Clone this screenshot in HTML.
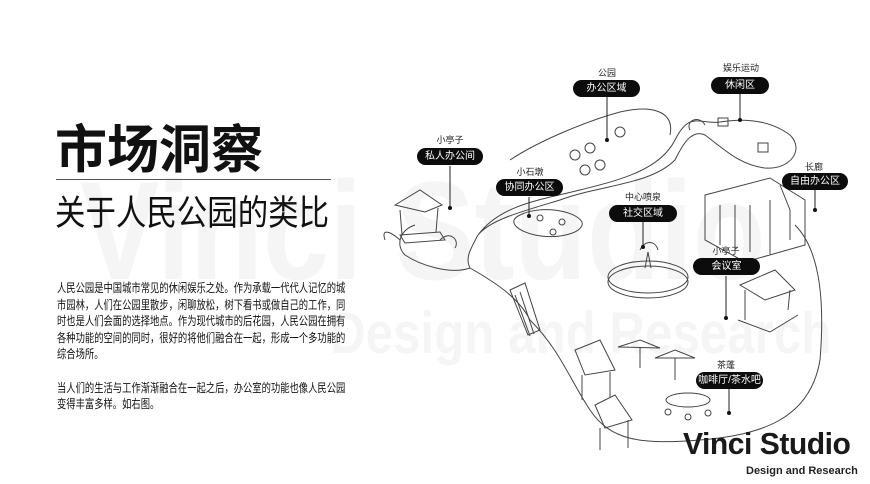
<!DOCTYPE html>
<html><head><meta charset="utf-8"><style>
html,body{margin:0;padding:0}
body{width:870px;height:484px;position:relative;background:#fff;overflow:hidden;font-family:"Liberation Sans","Noto Sans CJK SC",sans-serif;color:#111}
.a{position:absolute;white-space:nowrap}
.pill{position:absolute;background:#0c0c0c;color:#fff;border-radius:9px;font-size:10px;text-align:center;line-height:17px;height:17px}
.lab{position:absolute;font-size:9px;text-align:center;color:#222}
.wmbox{position:absolute;left:0;top:0;width:870px;height:484px;overflow:hidden}
.wm{position:absolute;color:#f5f5f5;font-weight:bold;white-space:nowrap;transform-origin:left top}
</style></head><body>
<div class="wmbox">
<div class="wm" style="left:80px;top:150px;font-size:140px;transform:scaleX(0.85)">Vinci Studio</div>
<div class="wm" style="left:330px;top:300px;font-size:58px;transform:scaleX(0.85)">Design and Research</div>
</div>

<div class="a" style="left:55px;top:108px;font-size:52px;font-weight:bold">市场洞察</div>
<div class="a" style="left:56px;top:179px;width:275px;height:1px;background:#555"></div>
<div class="a" style="left:55px;top:185px;font-size:35px;transform:scaleX(0.87);transform-origin:left top">关于人民公园的类比</div>
<div class="a" style="left:57px;top:280px;font-size:12px;line-height:16.6px;white-space:nowrap;transform:scaleX(0.775);transform-origin:left top">人民公园是中国城市常见的休闲娱乐之处。作为承载一代代人记忆的城<br>市园林，人们在公园里散步，闲聊放松，树下看书或做自己的工作，同<br>时也是人们会面的选择地点。作为现代城市的后花园，人民公园在拥有<br>各种功能的空间的同时，很好的将他们融合在一起，形成一个多功能的<br>综合场所。<br><br>当人们的生活与工作渐渐融合在一起之后，办公室的功能也像人民公园<br>变得丰富多样。如右图。</div>

<svg class="a" style="left:0;top:0" width="870" height="484" viewBox="0 0 870 484" fill="none" stroke="#444" stroke-width="1">
<path d="M478 235 C500 205 540 200 580 190 C620 180 660 170 675 140 C690 110 700 125 720 122 C745 118 770 120 790 135 C805 150 790 170 765 168 C740 165 725 150 705 135 C690 128 680 150 675 160 C650 185 600 185 560 200 C520 212 490 220 478 235 Z"/>
<path d="M478 235 C470 250 465 258 470 268 C500 285 520 300 530 320 C560 350 570 380 590 410 C610 440 640 445 700 440 C760 435 810 420 820 360 C825 300 820 250 795 225"/>
<path d="M470 268 C450 275 420 265 405 255 C395 245 400 230 415 225"/>
<path d="M510 290 L525 283 L540 330 L528 335 Z"/>
<path d="M515 295 L530 336 M520 292 L534 334"/>
<path d="M510 160 C540 140 590 120 620 112 C650 105 675 110 670 135"/>
<path d="M395 205 L420 190 L442 205 L425 212 Z M400 210 L402 235 M438 208 L436 232 M400 235 L440 232 L445 240 L405 243 Z"/>
<path d="M385 240 C380 225 395 235 400 240 M440 240 C450 230 460 240 455 248"/>
<path d="M520 215 C540 205 575 210 582 222 C585 232 560 240 535 235 C520 232 505 222 520 215 Z"/>
<circle cx="540" cy="218" r="3"/><circle cx="562" cy="222" r="3"/><circle cx="553" cy="232" r="3"/>
<ellipse cx="648" cy="277" rx="40" ry="16"/>
<ellipse cx="648" cy="282" rx="40" ry="16"/>
<path d="M645 268 L648 252 L651 268 M640 250 C645 240 655 240 658 250"/>
<path d="M705 195 L770 178 L805 200 L805 245 L745 262 L705 240 Z M705 195 L705 240 M720 205 L720 245 M735 205 L735 250 M750 205 L750 252 M770 200 L770 255 M780 185 L790 210 L790 240"/>
<path d="M740 285 L775 270 L795 290 L765 300 Z M745 290 L745 320 M790 290 L788 310 M738 320 L770 332 L798 315"/>
<path d="M618 347 L640 340 L660 348 Z M640 348 L640 368 M655 358 L675 350 L695 358 Z M675 358 L675 380"/>
<path d="M575 350 L600 340 L615 370 L585 375 Z M582 375 L582 400 M610 372 L610 398"/>
<path d="M595 405 L615 395 L632 420 L605 428 Z M600 428 L600 450 M628 420 L628 448"/>
<ellipse cx="688" cy="400" rx="22" ry="7"/>
<circle cx="668" cy="412" r="3"/><circle cx="688" cy="417" r="3"/><circle cx="708" cy="413" r="3"/>
<rect x="718" y="118" width="10" height="8"/><rect x="758" y="143" width="10" height="9"/>
<path d="M690 130 C685 120 700 115 705 125"/>
<circle cx="575" cy="155" r="5"/><circle cx="590" cy="148" r="5"/><circle cx="600" cy="165" r="5"/><circle cx="585" cy="170" r="5"/><circle cx="620" cy="132" r="5"/>
<g stroke="#222">
<path d="M607 97 L607 140"/><path d="M740 93 L740 120"/><path d="M450 166 L450 208"/>
<path d="M529 197 L529 216"/><path d="M643 222 L643 247"/><path d="M815 190 L815 210"/>
<path d="M726 276 L726 318"/><path d="M729 389 L729 413"/>
</g>
<g fill="#111" stroke="none">
<circle cx="607" cy="140" r="2"/><circle cx="740" cy="120" r="2"/><circle cx="450" cy="208" r="2"/>
<circle cx="529" cy="216" r="2"/><circle cx="643" cy="247" r="2"/><circle cx="815" cy="210" r="2"/>
<circle cx="726" cy="318" r="2"/><circle cx="729" cy="413" r="2"/>
</g>
</svg>

<div class="lab" style="left:587px;top:66px;width:40px">公园</div>
<div class="pill" style="left:573px;top:80px;width:67px">办公区域</div>
<div class="lab" style="left:716px;top:61px;width:50px">娱乐运动</div>
<div class="pill" style="left:711px;top:77px;width:58px">休闲区</div>
<div class="lab" style="left:430px;top:133px;width:40px">小亭子</div>
<div class="pill" style="left:417px;top:148px;width:66px">私人办公间</div>
<div class="lab" style="left:510px;top:165px;width:40px">小石墩</div>
<div class="pill" style="left:496px;top:179px;width:67px">协同办公区</div>
<div class="lab" style="left:618px;top:190px;width:50px">中心喷泉</div>
<div class="pill" style="left:609px;top:205px;width:68px">社交区域</div>
<div class="lab" style="left:794px;top:160px;width:40px">长廊</div>
<div class="pill" style="left:782px;top:173px;width:66px">自由办公区</div>
<div class="lab" style="left:706px;top:244px;width:40px">小亭子</div>
<div class="pill" style="left:693px;top:258px;width:67px">会议室</div>
<div class="lab" style="left:706px;top:358px;width:40px">茶蓬</div>
<div class="pill" style="left:696px;top:372px;width:67px">咖啡厅/茶水吧</div>

<div class="a" style="left:683px;top:426px;font-size:31px;font-weight:bold;letter-spacing:-0.5px;color:#1a1a1a;transform:scaleX(0.97);transform-origin:left top">Vinci Studio</div>
<div class="a" style="left:746px;top:465px;font-size:11px;font-weight:bold;color:#222">Design and Research</div>
</body></html>
